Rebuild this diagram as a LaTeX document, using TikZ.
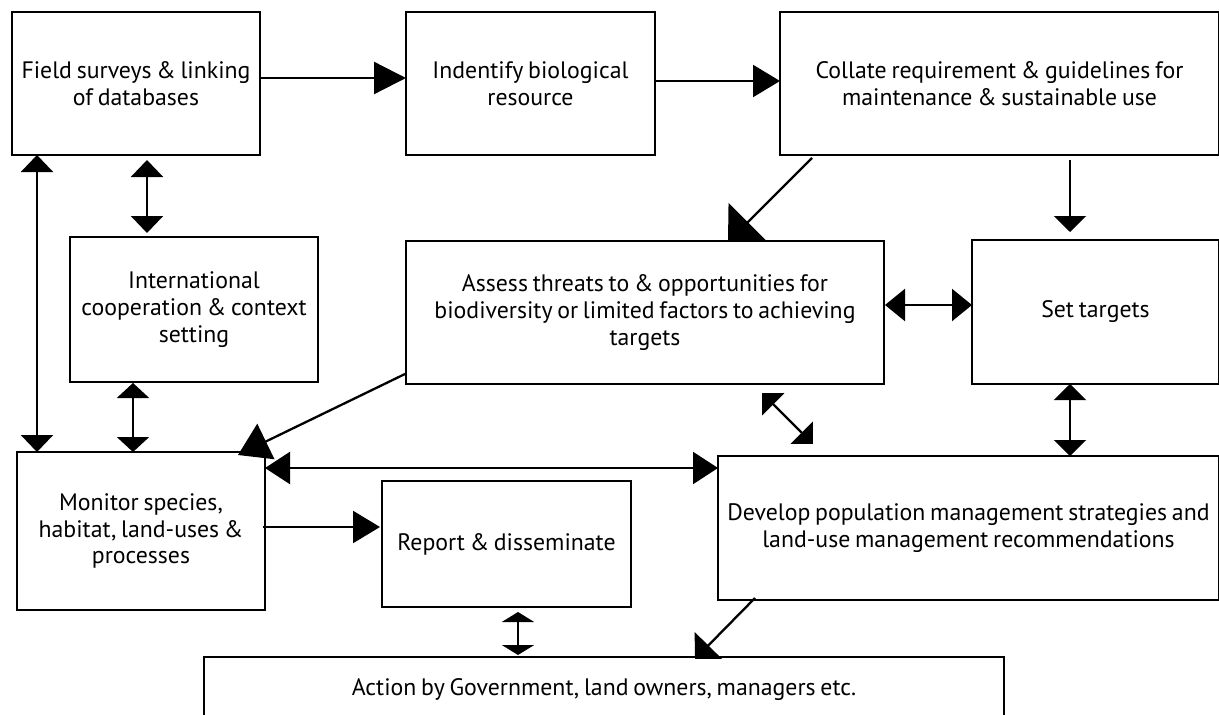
\documentclass[tikz,border=0pt]{standalone}
\usepackage{fontspec}
\setmainfont{PT Sans}[WordSpace=0.75]
\usetikzlibrary{arrows.meta,calc}
\begin{document}
\begin{tikzpicture}[x=1pt,y=-1pt,
  box/.style={draw, line width=2.6pt, fill=white, inner sep=0pt, outer sep=0pt,
              align=center, font=\fontsize{23.8}{26.8}\selectfont},
  link/.style={line width=2.3pt},
  tipA/.style={-{Triangle[length=#1pt,width=32pt]}},
  both/.style={{Triangle[length=#1pt,width=32pt]}-{Triangle[length=#1pt,width=32pt]}}]
\useasboundingbox (0,0) rectangle (1219,715);

% boxes
\node[box, minimum width=248pt, minimum height=143pt] (field) at (136,83.5)
  {Field surveys \& linking\\of databases};
\node[box, minimum width=249pt, minimum height=143pt] (identify) at (530.5,83.5)
  {Indentify biological\\resource};
\node[box, minimum width=439pt, minimum height=143pt] (collate) at (999.5,83.5)
  {Collate requirement \& guidelines for\\maintenance \& sustainable use};
\node[box, minimum width=248pt, minimum height=145pt] (intl) at (194,309.5)
  {International\\cooperation \& context\\setting};
\node[box, minimum width=478pt, minimum height=143pt] (assess) at (645,312.5)
  {Assess threats to \& opportunities for\\biodiversity or limited factors to achieving\\targets};
\node[box, minimum width=247pt, minimum height=144pt] (targets) at (1095.5,312)
  {Set targets};
\node[box, minimum width=248pt, minimum height=158pt] (monitor) at (141,531)
  {Monitor species,\\habitat, land-uses \&\\processes};
\node[box, minimum width=249pt, minimum height=126pt] (report) at (506.5,544)
  {Report \& disseminate};
\node[box, minimum width=501pt, minimum height=144pt] (develop) at (968.5,528)
  {Develop population management strategies and\\land-use management recommendations};
\node[box, minimum width=800pt, minimum height=66pt] (action) at (604,690)
  {Action by Government, land owners, managers etc.};

% one-way connectors
\draw[link, tipA=32] ($(field.east)+(0,-5.5)$) -- ($(identify.west)+(0,-5.5)$);
\draw[link, tipA=27] ($(identify.east)+(0,-2.5)$) -- ($(collate.west)+(0,-2.5)$);
\draw[link, tipA=16] ($(collate.south)+(70.5,5)$) -- ($(targets.north)+(-25.5,-8)$);
\draw[link, -{Triangle[length=28pt,width=54pt]}]
  ($(collate.south west)+(32,3)$) -- ($(assess.north)+(83,1)$);
\draw[link, -{Triangle[length=31pt,width=39pt]}]
  ($(assess.south west)+(-1,-10)$) -- ($(monitor.north east)+(-27,3)$);
\draw[link, tipA=27] ($(monitor.east)+(-2,-4)$) -- ($(report.west)+(-2,-17)$);
\draw[link, -{Triangle[length=19pt,width=38pt]}]
  ($(develop.south west)+(37,-2)$) -- ($(action.north)+(91,2)$);

% two-way connectors
\draw[link, both=20] ($(assess.east)+(1,-7.5)$) -- ($(targets.west)+(0,-7)$);
\draw[link, both=16] ($(targets.south)+(-25.5,0)$) -- ($(develop.north)+(101.5,0)$);
\draw[link, {Triangle[length=16pt,width=31pt]}-{Triangle[length=16pt,width=31pt]}]
  ($(assess.south)+(117,9)$) -- ($(develop.north)+(-155.5,-12)$);
\draw[link, both=17] ($(field.south west)+(25,0)$) -- ($(monitor.north west)+(20,0)$);
\draw[link, both=17] ($(field.south)+(11,5)$) -- ($(intl.north)+(-47,-4)$);
\draw[link, both=15] ($(intl.south)+(-61,1)$) -- ($(monitor.north)+(-8,0)$);
\draw[link, both=25] ($(monitor.north east)+(0,16)$) -- ($(develop.west)+(0,-60)$);
\draw[link, both=10] ($(report.south)+(11.5,5)$) -- ($(action.north)+(-86,-2)$);
\end{tikzpicture}
\end{document}
